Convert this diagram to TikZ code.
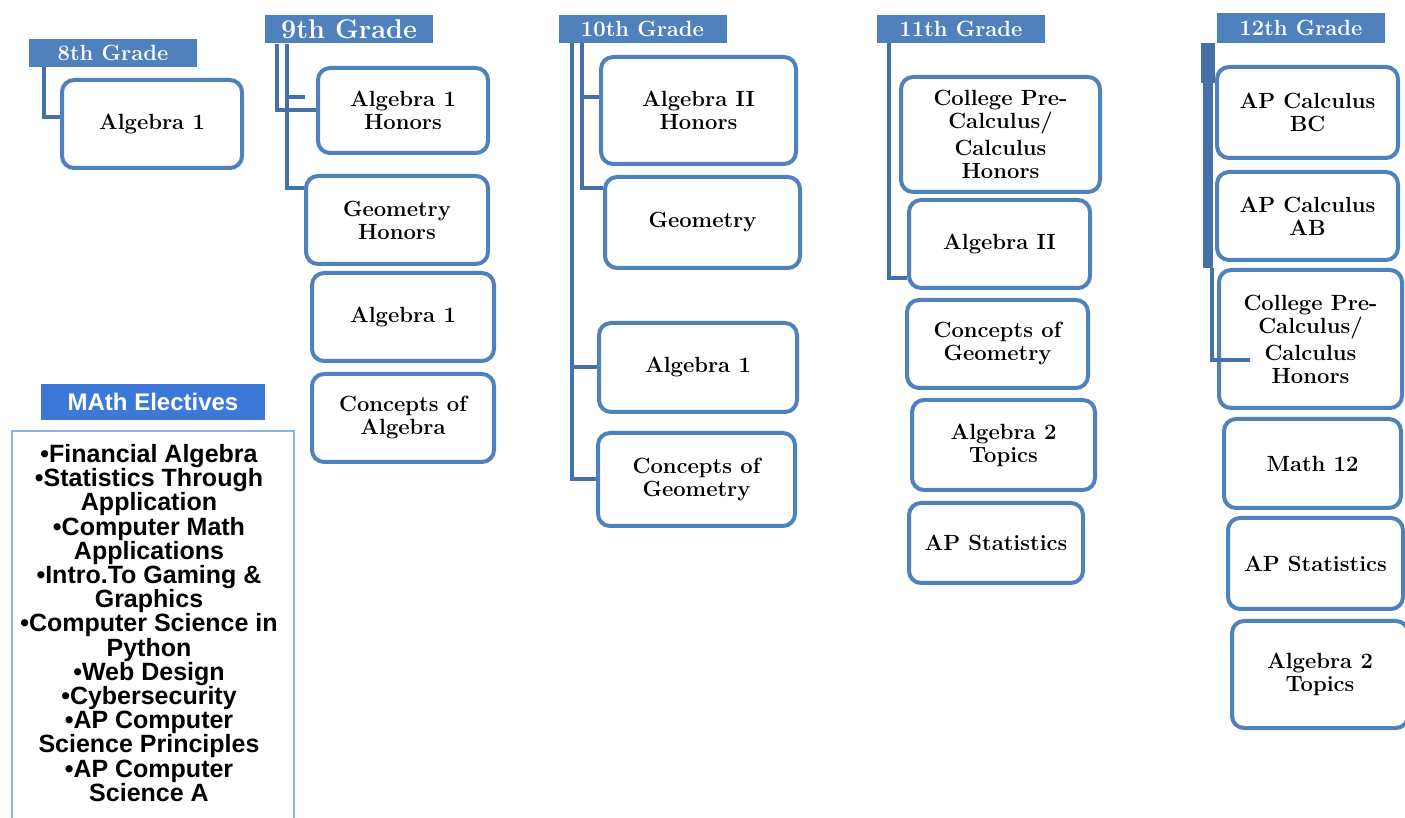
\documentclass[tikz,border=0pt]{standalone}
\usepackage{fontspec}
\newfontfamily\elecfont{Liberation Sans}
\usetikzlibrary{positioning}
\definecolor{gradeblue}{HTML}{4F81BD}
\definecolor{linkblue}{HTML}{4570A8}
\definecolor{elecblue}{HTML}{3C78D8}
\definecolor{eleclight}{HTML}{8EB4E3}
\tikzset{%
  gradehead/.style = {shape=rectangle, fill=gradeblue, text=white,%
                      inner sep=0pt, minimum width=84pt, minimum height=14pt,%
                      font=\fontsize{11}{12}\selectfont\bfseries},%
  course/.style    = {shape=rectangle, rounded corners=6pt, draw=gradeblue,%
                      line width=2pt, fill=white, align=center, inner sep=2pt,%
                      font=\fontsize{11}{11.5}\selectfont\bfseries},%
  link/.style      = {draw=linkblue, line width=2pt},%
  elechead/.style  = {shape=rectangle, fill=elecblue, text=white, inner sep=0pt,%
                      minimum width=112pt, minimum height=18pt,%
                      font=\elecfont\fontsize{12}{13}\selectfont\bfseries},%
  elecbox/.style   = {shape=rectangle, draw=eleclight, line width=1pt,%
                      inner sep=0pt, minimum width=141pt, minimum height=200pt},%
  electext/.style  = {align=center, inner sep=0pt,%
                      font=\elecfont\fontsize{12.5}{12.1}\selectfont\bfseries}%
}
\begin{document}
\begin{tikzpicture}[x=0.5pt,y=-0.5pt]
	\useasboundingbox (0,0) rectangle (1405,818);
	\clip (0,0) rectangle (1405,818);
	% grade headers
	\node [gradehead] (h8) at (113,53) {8th Grade};
	\node [gradehead, font=\fontsize{13.5}{14}\selectfont\bfseries] (h9) at (349,29.5) {9th Grade};
	\node [gradehead] (h10) at (642.5,29) {10th Grade};
	\node [gradehead] (h11) at (961,29) {11th Grade};
	\node [gradehead, minimum height=15pt] (h12) at (1301,28) {12th Grade};
	% 8th grade
	\node [course, minimum width=90pt, minimum height=44pt] (c8a) at (152,124) {Algebra 1};
	% 9th grade
	\node [course, minimum width=85pt, minimum height=42.5pt] (c9a) at (403,110.5) {Algebra 1\\Honors};
	\node [course, minimum width=91pt, minimum height=44pt] (c9b) at (397,220) {Geometry\\Honors};
	\node [course, minimum width=91pt, minimum height=44pt] (c9c) at (403,317) {Algebra 1};
	\node [course, minimum width=91pt, minimum height=44pt] (c9d) at (403,418) {Concepts of\\Algebra};
	% 10th grade
	\node [course, minimum width=97.5pt, minimum height=53.5pt] (c10a) at (698.5,110.5) {Algebra II\\Honors};
	\node [course, minimum width=97.5pt, minimum height=45.5pt] (c10b) at (702.5,222.5) {Geometry};
	\node [course, minimum width=99pt, minimum height=44.5pt] (c10c) at (698,367.5) {Algebra 1};
	\node [course, minimum width=98.5pt, minimum height=46.5pt] (c10d) at (696.5,479.5) {Concepts of\\Geometry};
	% 11th grade
	\node [course, minimum width=99.5pt, minimum height=57.5pt] (c11a) at (1000.5,134.5) {College Pre-\\Calculus/\\[2pt]Calculus\\Honors};
	\node [course, minimum width=90.5pt, minimum height=44pt] (c11b) at (999.5,244) {Algebra II};
	\node [course, minimum width=90.5pt, minimum height=44pt] (c11c) at (997.5,344) {Concepts of\\Geometry};
	\node [course, minimum width=91.5pt, minimum height=45pt] (c11d) at (1003.5,445) {Algebra 2\\Topics};
	\node [course, minimum width=87pt, minimum height=40pt] (c11e) at (996,543) {AP Statistics};
	% 12th grade
	\node [course, minimum width=90.5pt, minimum height=45.5pt] (c12a) at (1307.5,112.5) {AP Calculus\\BC};
	\node [course, minimum width=90.5pt, minimum height=44pt] (c12b) at (1307.5,216) {AP Calculus\\AB};
	\node [course, minimum width=91.5pt, minimum height=69pt] (c12c) at (1310.5,339) {College Pre-\\Calculus/\\[2pt]Calculus\\Honors};
	\node [course, minimum width=88.5pt, minimum height=44.5pt] (c12d) at (1312.5,463.5) {Math 12};
	\node [course, minimum width=87.5pt, minimum height=45.5pt] (c12e) at (1315.5,563.5) {AP Statistics};
	\node [course, minimum width=88pt, minimum height=53.5pt] (c12f) at (1320,674.5) {Algebra 2\\Topics};
	% connectors
	\coordinate (v8) at ([xshift=7.5pt]h8.south west);
	\coordinate (v9a) at ([xshift=6pt]h9.south west);
	\coordinate (v9b) at ([xshift=11pt]h9.south west);
	\coordinate (s9) at ([xshift=-5.5pt,yshift=6.75pt]c9a.west);
	\coordinate (v10a) at ([xshift=7pt]h10.south west);
	\coordinate (v10b) at ([xshift=12pt]h10.south west);
	\coordinate (s10) at ([yshift=6.75pt]c10a.west);
	\coordinate (v11) at ([xshift=6pt]h11.south west);
	\coordinate (v12) at ([xshift=-4.5pt]h12.south west);
	\coordinate (t12) at ([xshift=16.5pt,yshift=-10.5pt]c12c.west);
	\draw [link] (v8) |- ([yshift=3.5pt]c8a.west);
	\draw [link] (v9a) |- (c9a.west);
	\draw [link] (v9b) |- ([yshift=16pt]c9b.west);
	\draw [link] (v9b |- s9) -- (s9);
	\draw [link] (v10a) |- (c10d.west);
	\draw [link] (v10a |- c10c.west) -- (c10c.west);
	\draw [link] (v10b) |- ([yshift=17pt]c10b.west);
	\draw [link] (v10b |- s10) -- (s10);
	\draw [link] (v11) |- ([yshift=-17pt]c11b.west);
	\draw [link, line width=7pt] (v12) -- ++(0,-20pt);
	\draw [link, line width=5pt] (v12) -- (v12 |- c12c.north);
	\draw [link] ([xshift=2pt]v12 |- c12c.north) |- (t12);
	% electives
	\node [elechead] (he) at (153,402) {MAth Electives};
	\node [elecbox, anchor=north west] (eb) at (11,430) {};
	\node [electext, below=7pt of eb.north, xshift=-2pt] (el) {%
		\textbullet Financial Algebra\\
		\textbullet Statistics Through\\
		Application\\
		\textbullet Computer Math\\
		Applications\\
		\textbullet Intro.To Gaming \&\\
		Graphics\\
		\textbullet Computer Science in\\
		Python\\
		\textbullet Web Design\\
		\textbullet Cybersecurity\\
		\textbullet AP Computer\\
		Science Principles\\
		\textbullet AP Computer\\
		Science A};
\end{tikzpicture}
\end{document}
